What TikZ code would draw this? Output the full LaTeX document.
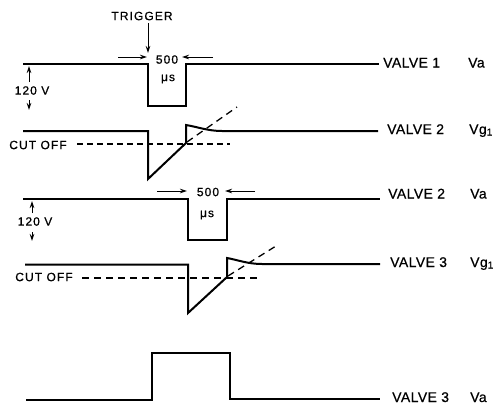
\documentclass[tikz,border=0pt]{standalone}
\usepackage{fontspec}
\setmainfont{Liberation Sans}
\newfontfamily\lblfont[LetterSpace=3,FakeBold=0.6]{Liberation Sans}
\newfontfamily\smlfont[LetterSpace=9,FakeBold=0.6]{Liberation Sans}
\usetikzlibrary{arrows.meta}
\begin{document}
\begin{tikzpicture}[x=1pt,y=-1pt,
  wave/.style={line width=2pt, line join=miter, line cap=butt},
  cutline/.style={line width=1.1pt, dash pattern=on 6pt off 4pt},
  extline/.style={line width=1.3pt, dash pattern=on 7pt off 5pt},
  dimarrow/.style={line width=1pt, -{Stealth[length=7pt,width=4.5pt]}},
  lbl/.style={font=\fontsize{14}{14}\selectfont\lblfont, inner sep=0pt, anchor=base west},
  sml/.style={font=\fontsize{12}{12}\selectfont\smlfont, inner sep=0pt}]
\useasboundingbox (0,0) rectangle (496,405);

% ---------- Waveform 1 : Valve 1 Va ----------
\draw[wave] (23,64) -- (148,64) -- (148,106) -- (186,106) -- (186,64) -- (379,64);
\node[lbl] (v1) at (383,67.5) {VALVE 1};
\node[lbl] (v1a) at (468,67.5) {Va};
\node[sml] (trig) at (142,16) {TRIGGER};
\coordinate (trigtip) at (148,53);
\draw[dimarrow] (trig.south -| trigtip) ++(0,3) -- (trigtip);
\node[sml] (t1) at (167,59.5) {500};
\node[sml] (u1) at (168,79) {μs};
\coordinate (l1a) at (118,57); \coordinate (l1b) at (147,57);
\coordinate (r1a) at (213,57); \coordinate (r1b) at (182,57);
\draw[dimarrow] (l1a) -- (l1b);
\draw[dimarrow] (r1a) -- (r1b);
\node[sml] (h1) at (32,90.5) {120 V};
\coordinate (h1up) at (29,66); \coordinate (h1dn) at (29,110);
\draw[dimarrow] (29,82) -- (h1up);
\draw[dimarrow] (29,100) -- (h1dn);

% ---------- Waveform 2 : Valve 2 Vg1 ----------
\draw[wave] (23,131) -- (148,131) -- (148,179) -- (186,143) -- (186,125)
  .. controls (198,127) and (208,131) .. (222,131) -- (378,131);
\draw[cutline] (77,144) -- (230,144);
\draw[extline] (187,142) -- (237,107);
\node[sml] (c1) at (38,145) {CUT OFF};
\node[lbl] (v2) at (387,134) {VALVE 2};
\node[lbl] (v2g) at (469,134) {Vg\raisebox{-1.5pt}{\fontsize{10}{10}\selectfont 1}};

% ---------- Waveform 3 : Valve 2 Va ----------
\draw[wave] (23,199) -- (188,199) -- (188,240) -- (227,240) -- (227,199) -- (380,199);
\node[sml] (t2) at (208,192) {500};
\node[sml] (u2) at (207,215) {μs};
\coordinate (l2a) at (157,191); \coordinate (l2b) at (187,191);
\coordinate (r2a) at (255,191); \coordinate (r2b) at (225,191);
\draw[dimarrow] (l2a) -- (l2b);
\draw[dimarrow] (r2a) -- (r2b);
\node[sml] (h2) at (35,221.5) {120 V};
\coordinate (h2up) at (32,201); \coordinate (h2dn) at (32,241);
\draw[dimarrow] (32,213) -- (h2up);
\draw[dimarrow] (32,232) -- (h2dn);
\node[lbl] (v3) at (388,198.5) {VALVE 2};
\node[lbl] (v3a) at (470,198.5) {Va};

% ---------- Waveform 4 : Valve 3 Vg1 ----------
\draw[wave] (25,264.5) -- (188,264.5) -- (188,313) -- (227,277) -- (227,258)
  .. controls (238,260) and (248,264) .. (262,264) -- (380,264);
\draw[cutline, dash pattern=on 7pt off 5pt] (82,278) -- (260,278);
\draw[extline] (228,276) -- (276,246);
\node[sml] (c2) at (44,277) {CUT OFF};
\node[lbl] (v4) at (390,267) {VALVE 3};
\node[lbl] (v4g) at (470,267) {Vg\raisebox{-1.5pt}{\fontsize{10}{10}\selectfont 1}};

% ---------- Waveform 5 : Valve 3 Va ----------
\draw[wave] (26,400) -- (152,400) -- (152,353) -- (230,353) -- (230,399) -- (380,399);
\node[lbl] (v5) at (392,402) {VALVE 3};
\node[lbl] (v5va) at (470,402) {Va};
\end{tikzpicture}
\end{document}
